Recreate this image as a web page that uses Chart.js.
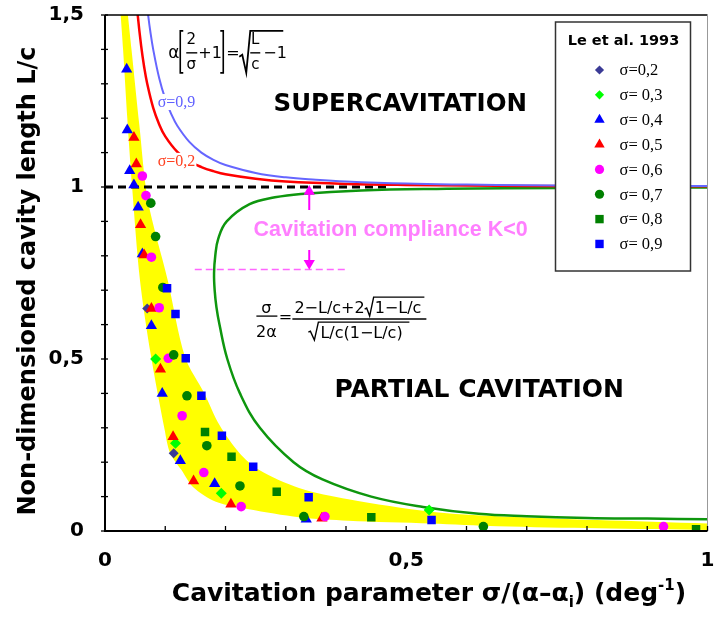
<!DOCTYPE html>
<html lang="en">
<head>
<meta charset="utf-8">
<title>Cavity length vs cavitation parameter</title>
<script src="https://cdn.jsdelivr.net/npm/chart.js@4.4.0/dist/chart.umd.min.js"></script>
<style>
  html, body { margin: 0; padding: 0; background: #fff; }
</style>
</head>
<body>
<canvas id="myChart" width="714" height="617"></canvas>
<script>
// axis ticks (labels drawn with a decimal comma)
var xTicks = [0, 0.5, 1];
var yTicks = [0, 0.5, 1, 1.5];

// Le et al. 1993 measurements, [sigma/alpha, L/c]
var sig02 = [[0.070, 0.647], [0.114, 0.226]];
var sig03 = [[0.084, 0.500], [0.117, 0.255], [0.193, 0.110], [0.538, 0.061]];
var sig04 = [[0.036, 1.342], [0.037, 1.166], [0.041, 1.047], [0.048, 1.006], [0.055, 0.941], [0.062, 0.805],
             [0.077, 0.597], [0.095, 0.400], [0.125, 0.204], [0.182, 0.137], [0.334, 0.034]];
var sig05 = [[0.048, 1.144], [0.052, 1.067], [0.059, 0.890], [0.065, 0.802], [0.077, 0.647], [0.092, 0.470],
             [0.113, 0.274], [0.147, 0.145], [0.209, 0.078], [0.360, 0.037]];
var sig06 = [[0.062, 1.032], [0.068, 0.975], [0.077, 0.796], [0.090, 0.649], [0.105, 0.502], [0.128, 0.335],
             [0.164, 0.170], [0.226, 0.071], [0.365, 0.042], [0.927, 0.013]];
var sig07 = [[0.076, 0.953], [0.084, 0.856], [0.096, 0.708], [0.114, 0.512], [0.136, 0.393], [0.169, 0.248],
             [0.224, 0.131], [0.330, 0.042], [0.628, 0.013]];
var sig08 = [[0.166, 0.288], [0.210, 0.216], [0.285, 0.114], [0.442, 0.040], [0.981, 0.005]];
var sig09 = [[0.103, 0.706], [0.117, 0.631], [0.134, 0.502], [0.160, 0.393], [0.194, 0.277], [0.246, 0.187],
             [0.338, 0.098], [0.542, 0.032]];

// supercavitation curves
var curveSig09 = [[0.0675, 1.562], [0.0716, 1.500], [0.075, 1.455], [0.08, 1.400], [0.09, 1.316], [0.1, 1.256],
                  [0.11, 1.212], [0.12, 1.178], [0.14, 1.131], [0.16, 1.100], [0.18, 1.079], [0.2, 1.064],
                  [0.25, 1.041], [0.3, 1.028], [0.35, 1.021], [0.4, 1.016], [0.5, 1.010], [0.6, 1.007],
                  [0.7, 1.005], [0.8, 1.004], [0.9, 1.003], [1.0, 1.003]];
var curveSig02 = [[0.05, 1.590], [0.0543, 1.500], [0.06, 1.410], [0.065, 1.349], [0.07, 1.301], [0.08, 1.230],
                  [0.09, 1.182], [0.1, 1.147], [0.12, 1.102], [0.14, 1.075], [0.16, 1.058], [0.18, 1.046],
                  [0.2, 1.037], [0.25, 1.024], [0.3, 1.016], [0.4, 1.009], [0.5, 1.006], [0.7, 1.003], [1.0, 1.002]];
// partial cavitation curve (C shape, ordered along the curve)
var curvePartial = [[1.0, 0.034], [0.9, 0.036], [0.8, 0.038], [0.7, 0.043], [0.62, 0.050], [0.528, 0.070],
                    [0.442, 0.100], [0.361, 0.150], [0.313, 0.200], [0.257, 0.300], [0.224, 0.400],
                    [0.203, 0.500], [0.190, 0.600], [0.185, 0.650], [0.182, 0.700], [0.181, 0.750],
                    [0.183, 0.800], [0.188, 0.850], [0.202, 0.900], [0.240, 0.950], [0.282, 0.970],
                    [0.325, 0.980], [0.425, 0.990], [0.567, 0.995], [0.663, 0.9965], [0.853, 0.998], [1.0, 0.9985]];

// yellow band around the data
var bandInner = [[0.024, 1.55], [0.026, 1.50], [0.030, 1.40], [0.037, 1.20], [0.045, 1.00], [0.058, 0.730],
                 [0.076, 0.512], [0.099, 0.294], [0.108, 0.227], [0.127, 0.177], [0.146, 0.128], [0.184, 0.085],
                 [0.239, 0.063], [0.322, 0.040], [0.404, 0.030], [0.541, 0.022], [0.652, 0.014], [0.82, 0.008],
                 [1.0, 0.003]];
var bandOuter = [[0.035, 1.55], [0.038, 1.50], [0.044, 1.40], [0.057, 1.18], [0.071, 0.962], [0.104, 0.730],
                 [0.133, 0.505], [0.165, 0.400], [0.190, 0.308], [0.223, 0.227], [0.256, 0.177], [0.322, 0.125],
                 [0.404, 0.092], [0.541, 0.056], [0.652, 0.043], [0.817, 0.032], [1.0, 0.022]];

// reference lines and the compliance arrows
var lineOne = [[0, 1], [0.47, 1]];
var complianceLine = [[0.149, 0.76], [0.401, 0.76]];
var arrowUp = [[0.339, 0.933], [0.339, 0.985]];
var arrowDown = [[0.339, 0.817], [0.339, 0.785]];
var arrowHeads = [[0.339, 0.987], [0.339, 0.778]];

var series = [
  { label: 'σ=0,2',  data: sig02, style: 'rectRot',  r: 5,   color: '#3b3b96' },
  { label: 'σ= 0,3', data: sig03, style: 'rectRot',  r: 5.5, color: '#00ff00' },
  { label: 'σ= 0,4', data: sig04, style: 'triangle', r: 6.5, color: '#0000ff' },
  { label: 'σ= 0,5', data: sig05, style: 'triangle', r: 6.5, color: '#ff0000' },
  { label: 'σ= 0,6', data: sig06, style: 'circle',   r: 4.8, color: '#ff00ff' },
  { label: 'σ= 0,7', data: sig07, style: 'circle',   r: 4.8, color: '#008000' },
  { label: 'σ= 0,8', data: sig08, style: 'rect',     r: 6,   color: '#008000' },
  { label: 'σ= 0,9', data: sig09, style: 'rect',     r: 6,   color: '#0000ff' }
];

var pts = function (arr) { return arr.map(function (p) { return { x: p[0], y: p[1] }; }); };
var fmt = function (v) { return String(v).replace('.', ','); };

var datasets = [];
series.forEach(function (s, i) {
  datasets.push({
    label: s.label, data: pts(s.data), showLine: false,
    pointStyle: s.style, pointRadius: s.r, pointBackgroundColor: s.color,
    pointBorderWidth: 0, order: 20 - i
  });
});
datasets.push({ label: 'sig09 curve', data: pts(curveSig09), borderColor: '#6666ff', borderWidth: 2,
  pointRadius: 0, tension: 0.4, order: 40 });
datasets.push({ label: 'sig02 curve', data: pts(curveSig02), borderColor: '#ff0000', borderWidth: 2.5,
  pointRadius: 0, tension: 0.4, order: 41 });
datasets.push({ label: 'partial curve', data: pts(curvePartial), borderColor: '#0e960e', borderWidth: 2.5,
  pointRadius: 0, tension: 0.4, order: 42 });
datasets.push({ label: 'L/c = 1', data: pts(lineOne), borderColor: '#000', borderWidth: 3,
  borderDash: [8, 5], pointRadius: 0, order: 45 });
datasets.push({ label: 'compliance', data: pts(complianceLine), borderColor: '#ff66ff', borderWidth: 1.5,
  borderDash: [7, 4], pointRadius: 0, order: 5 });
datasets.push({ label: 'arrow up', data: pts(arrowUp), borderColor: '#ff00ff', borderWidth: 2,
  pointRadius: 0, order: 5 });
datasets.push({ label: 'arrow down', data: pts(arrowDown), borderColor: '#ff00ff', borderWidth: 2,
  pointRadius: 0, order: 5 });
datasets.push({ label: 'arrow heads', data: pts(arrowHeads), showLine: false, pointStyle: 'triangle',
  pointRadius: 6.5, pointRotation: [0, 180], pointBackgroundColor: '#ff00ff', pointBorderWidth: 0, order: 4 });
var outerIndex = datasets.length;
datasets.push({ label: 'band outer', data: pts(bandOuter), borderWidth: 0, borderColor: 'rgba(0,0,0,0)',
  pointRadius: 0, tension: 0.3, fill: false, order: 100 });
var innerIndex = datasets.length;
datasets.push({ label: 'band inner', data: pts(bandInner), borderWidth: 0, borderColor: 'rgba(0,0,0,0)',
  pointRadius: 0, tension: 0.3, fill: false, order: 99 });

// text on the plot, anchored in data units
var notes = [
  { text: 'SUPERCAVITATION', x: 0.490, y: 1.238, font: 'bold 24.5px "DejaVu Sans"', color: '#000' },
  { text: 'PARTIAL CAVITATION', x: 0.621, y: 0.407, font: 'bold 25px "DejaVu Sans"', color: '#000' },
  { text: 'Cavitation compliance K<0', x: 0.474, y: 0.875, font: 'bold 21.5px "Liberation Sans"', color: '#ff7fff' }
];
var curveTags = [
  { text: 'σ=0,9', x: 0.0875, y: 1.247, color: '#6060ff' },
  { text: 'σ=0,2', x: 0.0875, y: 1.076, color: '#ff4020' }
];

function line(ctx, pts, w) {
  ctx.lineWidth = w;
  ctx.beginPath();
  ctx.moveTo(pts[0][0], pts[0][1]);
  for (var i = 1; i < pts.length; i++) ctx.lineTo(pts[i][0], pts[i][1]);
  ctx.stroke();
}

function marker(ctx, style, x, y, r) {
  ctx.beginPath();
  if (style === 'circle') {
    ctx.arc(x, y, r, 0, Math.PI * 2);
  } else if (style === 'triangle') {
    ctx.moveTo(x, y - r);
    ctx.lineTo(x + r * 0.866, y + r * 0.5);
    ctx.lineTo(x - r * 0.866, y + r * 0.5);
  } else if (style === 'rectRot') {
    ctx.moveTo(x, y - r); ctx.lineTo(x + r, y); ctx.lineTo(x, y + r); ctx.lineTo(x - r, y);
  } else {
    ctx.rect(x - r, y - r, 2 * r, 2 * r);
  }
  ctx.closePath();
  ctx.fill();
}

function formulaTop(ctx, ox, oy) {
  ctx.fillStyle = '#000'; ctx.strokeStyle = '#000';
  ctx.textBaseline = 'alphabetic';
  ctx.font = '17px "DejaVu Sans"'; ctx.textAlign = 'left';
  ctx.fillText('α', ox, oy + 5);
  line(ctx, [[ox + 15, oy - 22], [ox + 12, oy - 22], [ox + 12, oy + 20], [ox + 15, oy + 20]], 1.6);
  ctx.font = '15px "DejaVu Sans"'; ctx.textAlign = 'center';
  ctx.fillText('2', ox + 23, oy - 9);
  ctx.fillText('σ', ox + 23, oy + 16);
  line(ctx, [[ox + 18, oy], [ox + 29, oy]], 1.4);
  ctx.font = '16px "DejaVu Sans"'; ctx.textAlign = 'left';
  ctx.fillText('+1', ox + 30, oy + 5);
  line(ctx, [[ox + 52, oy - 22], [ox + 55, oy - 22], [ox + 55, oy + 20], [ox + 52, oy + 20]], 1.6);
  ctx.fillText('=', ox + 58, oy + 5);
  line(ctx, [[ox + 71, oy + 4], [ox + 74, oy + 2], [ox + 78, oy + 20], [ox + 82, oy - 22], [ox + 115, oy - 22]], 1.8);
  ctx.font = '15px "DejaVu Sans"'; ctx.textAlign = 'center';
  ctx.fillText('L', ox + 87, oy - 9);
  ctx.fillText('c', ox + 87, oy + 16);
  line(ctx, [[ox + 82, oy], [ox + 92, oy]], 1.4);
  ctx.font = '16px "DejaVu Sans"'; ctx.textAlign = 'left';
  ctx.fillText('−1', ox + 95, oy + 5);
}

function formulaPartial(ctx, ox, oy) {
  ctx.fillStyle = '#000'; ctx.strokeStyle = '#000';
  ctx.textBaseline = 'alphabetic';
  ctx.font = '16px "DejaVu Sans"'; ctx.textAlign = 'center';
  ctx.fillText('σ', ox - 26, oy - 6);
  ctx.fillText('2α', ox - 26, oy + 18);
  line(ctx, [[ox - 36, oy - 3], [ox - 15, oy - 3]], 1.3);
  ctx.fillText('=', ox - 7, oy + 3);
  ctx.textAlign = 'left';
  var a = '2−L/c+2', b = '1−L/c';
  ctx.fillText(a, ox + 2, oy - 6);
  var x0 = ox + 2 + ctx.measureText(a).width;
  line(ctx, [[x0, oy - 10], [x0 + 2, oy - 11], [x0 + 5, oy - 3], [x0 + 9, oy - 22], [ox + 132, oy - 22]], 1.4);
  ctx.fillText(b, x0 + 10, oy - 6);
  line(ctx, [[ox, oy], [ox + 134, oy]], 1.5);
  line(ctx, [[ox + 16, oy + 13], [ox + 18, oy + 12], [ox + 22, oy + 21], [ox + 26, oy + 3], [ox + 117, oy + 3]], 1.4);
  ctx.fillText('L/c(1−L/c)', ox + 28, oy + 19);
}

// yellow band: closed shape between the two boundary lines, under every dataset
var bandFill = {
  id: 'bandFill',
  beforeDatasetsDraw: function (chart) {
    var ctx = chart.ctx, a = chart.chartArea;
    var outer = chart.getDatasetMeta(outerIndex).dataset;
    var inner = chart.getDatasetMeta(innerIndex).dataset;
    outer.updateControlPoints(a, 'x');
    inner.updateControlPoints(a, 'x');
    ctx.save();
    ctx.beginPath();
    ctx.rect(a.left, a.top, a.width, a.height);
    ctx.clip();
    ctx.beginPath();
    outer.path(ctx);
    inner.pathSegment(ctx, inner.segments[0], { move: false, reverse: true });
    ctx.closePath();
    ctx.fillStyle = '#ffff00';
    ctx.fill();
    ctx.restore();
  }
};

var sketch = {
  id: 'sketch',
  afterDatasetsDraw: function (chart) {
    var ctx = chart.ctx, a = chart.chartArea;
    var xs = chart.scales.x, ys = chart.scales.y;
    var px = function (v) { return xs.getPixelForValue(v); };
    var py = function (v) { return ys.getPixelForValue(v); };
    ctx.save();

    // curve tags with white background (break the curves)
    ctx.font = '16px "Liberation Serif"';
    ctx.textAlign = 'left'; ctx.textBaseline = 'middle';
    curveTags.forEach(function (t) {
      var w = ctx.measureText(t.text).width;
      ctx.fillStyle = '#fff';
      ctx.fillRect(px(t.x) - 1, py(t.y) - 8, w + 2, 16);
      ctx.fillStyle = t.color;
      ctx.fillText(t.text, px(t.x), py(t.y) + 1);
    });

    notes.forEach(function (n) {
      ctx.font = n.font; ctx.fillStyle = n.color;
      ctx.textAlign = 'center'; ctx.textBaseline = 'middle';
      ctx.fillText(n.text, px(n.x), py(n.y));
    });

    formulaTop(ctx, px(0.105), py(1.39));
    formulaPartial(ctx, px(0.311), py(0.616));

    // legend box
    var lx = a.right - 152, ly = a.top + 7, lw = 135, lh = 249;
    ctx.fillStyle = '#fff';
    ctx.fillRect(lx, ly, lw, lh);
    ctx.strokeStyle = '#333'; ctx.lineWidth = 1.5;
    ctx.strokeRect(lx, ly, lw, lh);
    ctx.fillStyle = '#000'; ctx.font = 'bold 14.5px "DejaVu Sans"';
    ctx.textAlign = 'center'; ctx.textBaseline = 'middle';
    ctx.fillText('Le et al. 1993', lx + 68, ly + 19);
    ctx.font = '16.5px "Liberation Serif"'; ctx.textAlign = 'left';
    series.forEach(function (s, i) {
      var yy = ly + 48 + i * 24.85;
      ctx.fillStyle = s.color;
      var r = s.style === 'triangle' ? 6 : (s.style === 'rect' ? 4.2 : 4.6);
      marker(ctx, s.style, lx + 44, yy, r);
      ctx.fillStyle = '#000';
      ctx.fillText(s.label, lx + 64, yy + 1);
    });

    // frame
    ctx.strokeStyle = '#000';
    line(ctx, [[a.left, a.top], [a.right, a.top]], 1.5);
    ctx.strokeStyle = '#999';
    line(ctx, [[a.right, a.top], [a.right, a.bottom]], 1);
    ctx.strokeStyle = '#000';
    line(ctx, [[a.left, a.top], [a.left, a.bottom], [a.right, a.bottom]], 2);

    // minor ticks every 0.1
    for (var i = 0; i <= 10; i++) {
      var tx = px(i / 10);
      line(ctx, [[tx, a.bottom - 5], [tx, a.bottom]], 1.3);
    }
    for (var j = 0; j <= 15; j++) {
      var ty = py(j / 10);
      line(ctx, [[a.left - 4, ty], [a.left + 3, ty]], 1.3);
    }

    // axis titles
    ctx.fillStyle = '#000';
    ctx.font = 'bold 24px "DejaVu Sans"';
    ctx.save();
    ctx.translate(29, 281);
    ctx.rotate(-Math.PI / 2);
    ctx.textAlign = 'center'; ctx.textBaseline = 'middle';
    ctx.fillText('Non-dimensioned cavity length L/c', 0, 0);
    ctx.restore();

    var big = 'bold 25px "DejaVu Sans"', small = 'bold 15px "DejaVu Sans"';
    var parts = [
      { t: 'Cavitation parameter σ/(α–α', f: big, dy: 0 },
      { t: 'i', f: small, dy: 6 },
      { t: ') (deg', f: big, dy: 0 },
      { t: '-1', f: small, dy: -11 },
      { t: ')', f: big, dy: 0 }
    ];
    var total = 0;
    parts.forEach(function (p) { ctx.font = p.f; p.w = ctx.measureText(p.t).width; total += p.w; });
    var cx = 429 - total / 2;
    ctx.textAlign = 'left'; ctx.textBaseline = 'alphabetic';
    parts.forEach(function (p) { ctx.font = p.f; ctx.fillText(p.t, cx, 601 + p.dy); cx += p.w; });

    ctx.restore();
  }
};

var tickFont = { family: 'DejaVu Sans', size: 20, weight: 'bold' };

var ctx = document.getElementById('myChart').getContext('2d');
var myChart = new Chart(ctx, {
  type: 'line',
  data: { datasets: datasets },
  options: {
    responsive: false,
    devicePixelRatio: 1,
    animation: false,
    events: [],
    layout: { padding: { left: 0, right: 3, top: 15, bottom: 0 } },
    plugins: { legend: { display: false }, tooltip: { enabled: false } },
    scales: {
      x: {
        type: 'linear', min: 0, max: 1,
        afterBuildTicks: function (s) { s.ticks = xTicks.map(function (v) { return { value: v }; }); },
        ticks: { callback: fmt, font: tickFont, color: '#000', padding: 10, maxRotation: 0, autoSkip: false },
        grid: { display: false }, border: { display: false },
        afterFit: function (s) { s.height = 86; s.paddingLeft = 0; s.paddingRight = 0; }
      },
      y: {
        type: 'linear', min: 0, max: 1.5,
        afterBuildTicks: function (s) { s.ticks = yTicks.map(function (v) { return { value: v }; }); },
        ticks: { callback: fmt, font: tickFont, color: '#000', padding: 13, autoSkip: false },
        grid: { display: false }, border: { display: false },
        afterFit: function (s) { s.width = 105; s.paddingTop = 0; s.paddingBottom = 0; }
      }
    }
  },
  plugins: [bandFill, sketch]
});
</script>
</body>
</html>
